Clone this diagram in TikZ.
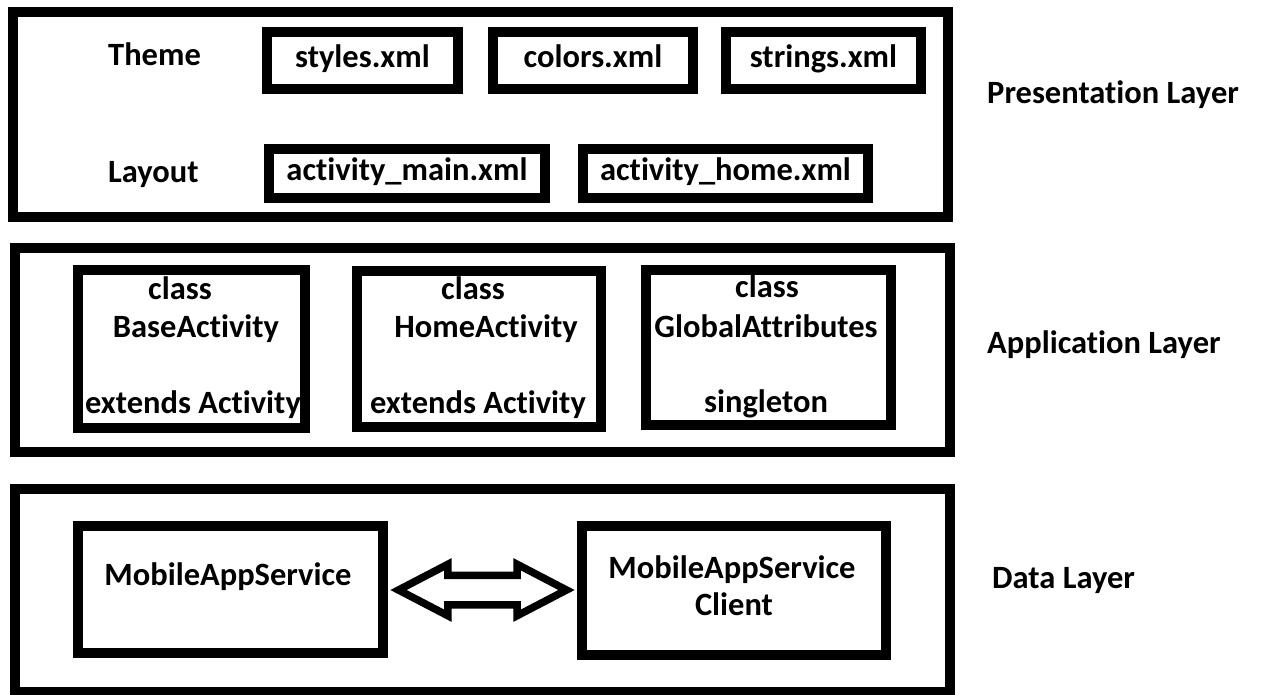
\documentclass[tikz,border=0pt]{standalone}
\usepackage{fontspec}
\setmainfont[Ligatures={NoCommon}]{Carlito}
\usetikzlibrary{shapes.arrows}
\begin{document}
\begin{tikzpicture}[x=1pt,y=-1pt,
  layerbox/.style={draw, line width=10pt, rectangle, inner sep=0pt},
  itembox/.style={draw, line width=10pt, rectangle, inner sep=0pt,
    font=\fontsize{32.5}{38}\bfseries\selectfont, text height=22pt, text depth=7pt},
  lbl/.style={inner sep=0pt, anchor=base, font=\fontsize{32.5}{38}\bfseries\selectfont},
  sidelbl/.style={lbl, anchor=base west},
  sync/.style={double arrow, draw, line width=7.5pt, inner xsep=0pt, inner ysep=11pt,
    minimum height=168pt, double arrow head extend=11pt, double arrow tip angle=55}]
\useasboundingbox (0,0) rectangle (1261,695);

% Presentation layer
\node[layerbox, minimum width=935pt, minimum height=205pt] (pres) at (480.5,114.5) {};
\node[sidelbl] (theme) at (108,66) {Theme};
\node[sidelbl] (layout) at (108,183) {Layout};
\node[itembox, minimum width=191pt, minimum height=57pt] (styles) at (362.5,60.5) {styles.xml};
\node[itembox, minimum width=200pt, minimum height=57pt] (colors) at (593,60.5) {colors.xml};
\node[itembox, minimum width=195pt, minimum height=57pt] (strings) at (823.5,60.5) {strings.xml};
\node[itembox, minimum width=276pt, minimum height=49pt] (amain) at (407,173.5) {activity\_main.xml};
\node[itembox, minimum width=285pt, minimum height=49pt] (ahome) at (725.5,173.5) {activity\_home.xml};
\node[sidelbl] (presname) at (987,104) {Presentation Layer};

% Application layer
\node[layerbox, minimum width=935pt, minimum height=204pt] (app) at (482.5,350) {};
\node[layerbox, minimum width=227pt, minimum height=158pt] (base) at (191.5,349) {};
\node[lbl] (baseA) at (180,299) {class};
\node[lbl] (baseB) at (196,337) {BaseActivity};
\node[lbl] (baseC) at (193,413) {extends Activity};
\node[layerbox, minimum width=244pt, minimum height=156pt] (home) at (479,349) {};
\node[lbl] (homeA) at (473,299) {class};
\node[lbl] (homeB) at (486,337) {HomeActivity};
\node[lbl] (homeC) at (478,413) {extends Activity};
\node[layerbox, minimum width=245pt, minimum height=155pt] (glob) at (768.5,347.5) {};
\node[lbl] (globA) at (767,297) {class};
\node[lbl] (globB) at (766,337) {GlobalAttributes};
\node[lbl] (globC) at (766,412) {singleton};
\node[sidelbl] (appname) at (987,353) {Application Layer};

% Data layer
\node[layerbox, minimum width=935pt, minimum height=203pt] (data) at (482.5,590.5) {};
\node[layerbox, minimum width=305pt, minimum height=127pt] (svc) at (230.5,589.5) {};
\node[lbl] (svcA) at (228,585) {MobileAppService};
\node[layerbox, minimum width=304pt, minimum height=129pt] (cli) at (734,590.5) {};
\node[lbl] (cliA) at (732,578) {MobileAppService};
\node[lbl] (cliB) at (734,615) {Client};
\path (svc.east) -- (cli.west) node[sync, midway] (link) {};
\node[sidelbl] (dataname) at (992,588) {Data Layer};
\end{tikzpicture}
\end{document}
